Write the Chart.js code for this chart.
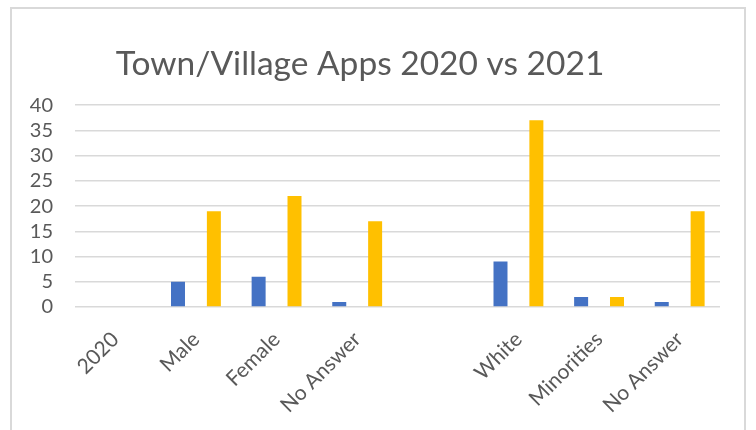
<!DOCTYPE html>
<html>
<head>
<meta charset="utf-8">
<script src="https://cdn.jsdelivr.net/npm/chart.js@4.4.0/dist/chart.umd.min.js"></script>
<style>
  body { margin: 0; background: #fff; overflow: hidden; }
  #wrap { position: relative; width: 756px; height: 430px; }
  #frame { position: absolute; left: 10px; top: 7px; width: 736px; height: 440px; border: 2px solid #d9d9d9; box-sizing: border-box; pointer-events: none; }
  #mycan { position: absolute; left: 0; top: 0; }
</style>
</head>
<body>
<div id="wrap">
  <canvas id="mycan" width="726" height="430"></canvas>
  <div id="frame"></div>
</div>
<script>
var categories = ['2020', 'Male', 'Female', 'No Answer', '', 'White', 'Minorities', 'No Answer'];
var apps2020 = [null, 5, 6, 1, null, 9, 2, 1];
var apps2021 = [null, 19, 22, 17, null, 37, 2, 19];
var yTicks = [0, 5, 10, 15, 20, 25, 30, 35, 40];

var chartdata = {
  labels: categories,
  datasets: [
    { label: '2020', backgroundColor: '#4472C4', data: apps2020 },
    { label: '2021', backgroundColor: '#FFC000', data: apps2021 }
  ]
};

var ctx = document.getElementById('mycan');
var bargraph = new Chart(ctx, {
  type: 'bar',
  data: chartdata,
  options: {
    responsive: false,
    animation: false,
    layout: { padding: { left: 0, right: 6, top: 0, bottom: 0 } },
    datasets: { bar: { categoryPercentage: 0.89, barPercentage: 0.39 } },
    plugins: {
      legend: { display: false },
      tooltip: { enabled: false },
      title: {
        display: true,
        text: 'Town/Village Apps 2020 vs 2021',
        color: '#595959',
        font: { family: 'Lato', size: 33.5, weight: 'normal', lineHeight: 1.2 },
        padding: { top: 44, bottom: 21 }
      }
    },
    scales: {
      x: {
        grid: { display: false, drawTicks: false },
        border: { display: false },
        ticks: {
          color: '#595959',
          font: { family: 'Lato', size: 21 },
          minRotation: 45,
          maxRotation: 45,
          autoSkip: false,
          padding: 20
        },
        afterFit: function(scale) { scale.height = 123; }
      },
      y: {
        min: 0,
        max: 40,
        afterBuildTicks: function(scale) {
          scale.ticks = yTicks.map(function(v) { return { value: v }; });
        },
        grid: { color: '#d9d9d9', lineWidth: 1.5, drawTicks: false },
        border: { display: false },
        ticks: {
          color: '#595959',
          font: { family: 'Lato', size: 20 },
          padding: 22,
          autoSkip: false
        },
        afterFit: function(scale) { scale.width = 75; }
      }
    }
  }
});
</script>
</body>
</html>
